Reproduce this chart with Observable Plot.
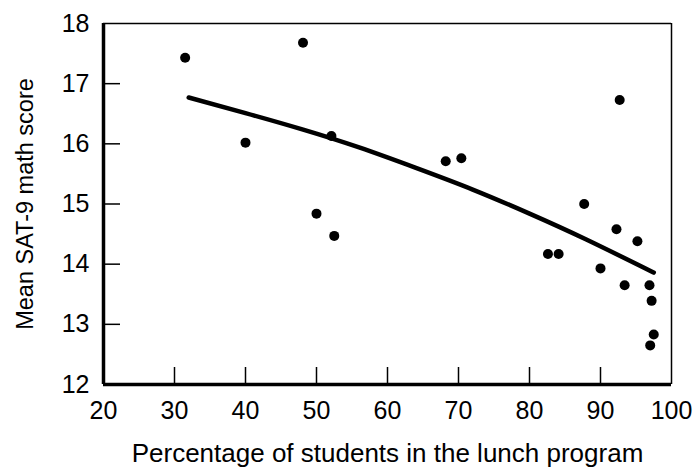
<!DOCTYPE html>
<html>
<head>
<meta charset="utf-8">
<script src="https://cdn.jsdelivr.net/npm/d3@7"></script>
<script src="https://cdn.jsdelivr.net/npm/@observablehq/plot@0.6"></script>
<style>
  html, body { margin: 0; padding: 0; background: white; }
</style>
</head>
<body>
<div id="chart"></div>
<script>
// Scatter points
const lunchPct  = [31.5, 40.0, 48.1, 50.0, 52.1, 52.5, 68.2, 70.4, 82.6, 84.1, 87.7, 90.0, 92.25, 92.7, 93.4, 95.2, 96.9, 97.0, 97.2, 97.5];
const mathScore = [17.43, 16.02, 17.68, 14.84, 16.13, 14.47, 15.71, 15.76, 14.17, 14.17, 15.0, 13.93, 14.58, 16.73, 13.65, 14.38, 13.65, 12.65, 13.39, 12.83];

// Fitted curve
const fitX = [32, 40, 48, 56, 64, 72, 80, 88, 97.5];
const fitY = [16.77, 16.51, 16.24, 15.94, 15.6, 15.24, 14.84, 14.41, 13.86];

// Tick labels
const xTicks = [20, 30, 40, 50, 60, 70, 80, 90, 100];
const yTicks = [12, 13, 14, 15, 16, 17, 18];
const xInnerTicks = [30, 40, 50, 60, 70, 80, 90];
const yInnerTicks = [13, 14, 15, 16, 17];

const xTitle = "Percentage of students in the lunch program";
const yTitle = "Mean SAT-9 math score";

const points = lunchPct.map((x, i) => ({x, y: mathScore[i]}));
const fit = fitX.map((x, i) => ({x, y: fitY[i]}));

const W = 693, H = 467, ML = 103, MR = 22, MT = 23, MB = 83;
const plotW = W - ML - MR, plotH = H - MT - MB;
const tickLen = 17;

const chart = Plot.plot({
  width: W,
  height: H,
  marginLeft: ML,
  marginRight: MR,
  marginTop: MT,
  marginBottom: MB,
  x: {domain: [20, 100]},
  y: {domain: [12, 18]},
  style: {fontFamily: "'Liberation Sans', Arial, Helvetica, sans-serif", background: "white", color: "black"},
  marks: [
    Plot.axisX(xTicks, {tickSize: 0, tickPadding: 17, fontSize: 25, tickFormat: "d", label: null}),
    Plot.axisY(yTicks, {tickSize: 0, tickPadding: 14, fontSize: 25, tickFormat: "d", label: null}),
    Plot.text([xTitle], {frameAnchor: "bottom", lineAnchor: "bottom", dy: 77, fontSize: 26, fill: "black"}),
    Plot.axisY({ticks: [], label: yTitle, fontSize: 23.5, labelAnchor: "center", labelArrow: "none", labelOffset: 87}),
    // inward ticks
    Plot.ruleX(xInnerTicks, {x: d => d, insetTop: plotH - tickLen, stroke: "black", strokeWidth: 1.5}),
    Plot.ruleY(yInnerTicks, {y: d => d, insetRight: plotW - tickLen, stroke: "black", strokeWidth: 1.5}),
    // frame
    Plot.ruleX([100], {stroke: "black", strokeWidth: 1.5}),
    Plot.ruleY([18], {stroke: "black", strokeWidth: 1.5}),
    Plot.ruleX([20], {stroke: "black", strokeWidth: 3.5}),
    Plot.ruleY([12], {stroke: "black", strokeWidth: 3.5}),
    // fit curve
    Plot.line(fit, {x: "x", y: "y", curve: "natural", stroke: "black", strokeWidth: 4.5}),
    // points
    Plot.dot(points, {x: "x", y: "y", r: 5, fill: "black", stroke: "none"})
  ]
});
document.getElementById("chart").appendChild(chart);
</script>
</body>
</html>
